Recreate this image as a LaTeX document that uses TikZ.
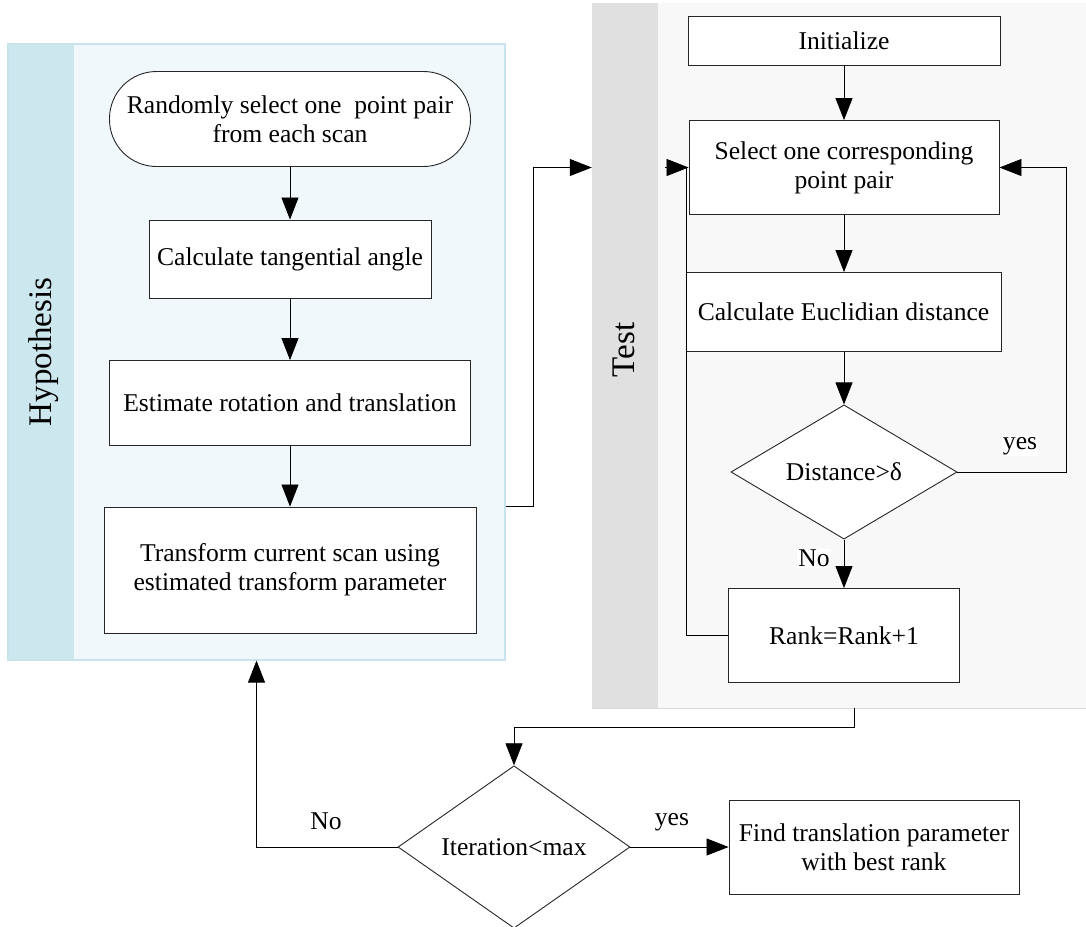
\documentclass[tikz,border=0pt]{standalone}
\usepackage{fontspec}
\setmainfont{Liberation Serif}
\usetikzlibrary{arrows.meta,shapes.geometric}
\definecolor{hypstrip}{HTML}{CDE7EF}
\definecolor{hypbody}{HTML}{F0F8FB}
\definecolor{hypline}{HTML}{C6E3EE}
\definecolor{teststrip}{HTML}{E0E0E0}
\definecolor{testbody}{HTML}{F8F8F8}
\definecolor{testline}{HTML}{DCDCDC}
\definecolor{boxline}{HTML}{262626}
\begin{document}
\begin{tikzpicture}[x=1pt,y=-1pt,
  font=\fontsize{25.6pt}{29pt}\selectfont,
  box/.style={draw=boxline,fill=white,line width=0.9pt,align=center,inner sep=0pt},
  dec/.style={diamond,draw=boxline,fill=white,line width=0.9pt,inner sep=0pt},
  arr/.style={-{Triangle[length=22pt,width=17pt]},line width=0.8pt,draw=black},
  conn/.style={line width=0.8pt,draw=black},
  lbl/.style={fill=white,inner sep=1pt},
  lanelbl/.style={rotate=90,font=\fontsize{33pt}{36pt}\selectfont,inner sep=0pt}
]
\useasboundingbox (0,0) rectangle (1086,926);

% panels
\node[draw=hypline,fill=hypbody,line width=1.2pt,minimum width=497pt,minimum height=616pt,inner sep=0pt] (hyp) at (256.5,352) {};
\fill[hypstrip] (8.6,44.6) rectangle (74,659.4);
\node[fill=testbody,minimum width=494pt,minimum height=705pt,inner sep=0pt] (test) at (839,355.5) {};
\fill[teststrip] (592,3) rectangle (658,708);
\draw[testline,line width=1.2pt] (test.south west) -- (test.south east);

\node[lanelbl] (hyplbl) at (44,352) {Hypothesis};
\node[lanelbl] (testlbl) at (624,350) {Test};

% hypothesis nodes
\node[box,rounded corners=47pt,minimum width=361pt,minimum height=95pt] (start) at (290,119) {Randomly select one~ point pair\\from each scan};
\node[box,minimum width=282pt,minimum height=78pt] (tang) at (290,259) {Calculate tangential angle};
\node[box,minimum width=361pt,minimum height=85pt] (est) at (290,403) {Estimate rotation and translation};
\node[box,minimum width=372pt,minimum height=126pt] (trans) at (290,570) {Transform current scan using\\estimated transform parameter};

% test nodes
\node[box,minimum width=312pt,minimum height=49pt] (init) at (844,41) {Initialize};
\node[box,minimum width=310pt,minimum height=94pt] (sel) at (844,167.5) {Select one corresponding\\point pair};
\node[box,minimum width=315pt,minimum height=79pt] (euc) at (843.5,312) {Calculate Euclidian distance};
\node[dec,minimum width=226pt,minimum height=125pt] (dist) at (844,472) {Distance>δ};
\node[box,minimum width=231pt,minimum height=94pt] (rank) at (844,635.5) {Rank=Rank+1};

% bottom nodes
\node[dec,minimum width=232pt,minimum height=161pt] (iter) at (514,847) {Iteration<max};
\node[box,minimum width=290pt,minimum height=94pt] (find) at (874,847) {Find translation parameter\\with best rank};

\coordinate (tout) at (854,708);

% connectors
\draw[arr] (start) -- (tang);
\draw[arr] (tang) -- (est);
\draw[arr] (est) -- (trans);
\draw[arr] (hyp.east |- trans.north) -- ++(28,0) |- (test.west |- sel.west);

\draw[arr] (init) -- (sel);
\draw[arr] (sel) -- (euc.north -| sel.south);
\draw[arr] (euc.south -| dist.north) -- (dist.north);
\draw[arr] (dist) -- (rank);
\draw[arr] (dist.east) -- ++(109,0) |- (sel.east);
\draw[conn] (rank.west) -| ([xshift=-2.5pt]sel.west);
\draw[arr] ([xshift=-24pt]sel.west) -- (sel.west);

\draw[arr] (tout) -- ++(0,19) -| (iter.north);
\draw[arr] (iter.west) -| (hyp.south);
\draw[arr] (iter.east) -- (find.west);

% labels
\node[lbl] (yes1) at (1020,446) {yes};
\node[lbl] (no1) at (814,558) {No};
\node (no2) at (326,821) {No};
\node (yes2) at (672,822) {yes};
\end{tikzpicture}
\end{document}
